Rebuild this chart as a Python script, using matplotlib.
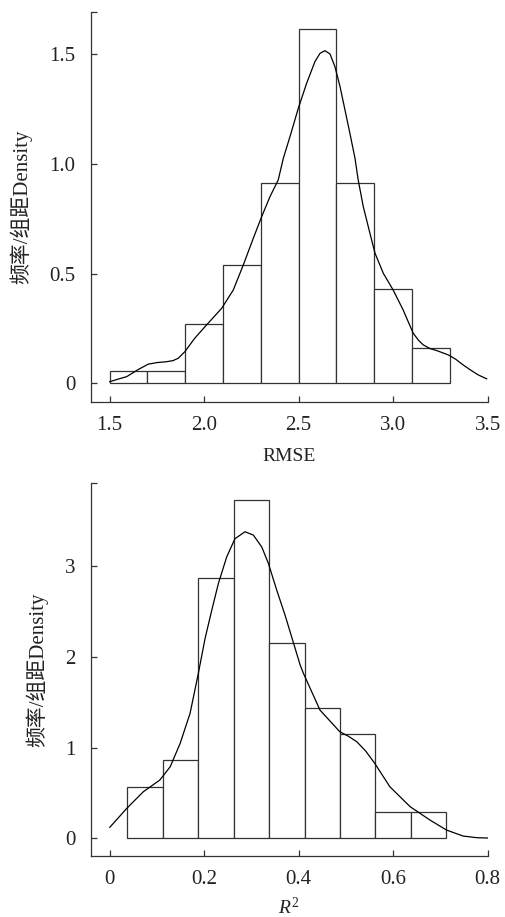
import matplotlib
matplotlib.use("Agg")
import matplotlib.pyplot as plt

plt.rcParams['font.family'] = ['Liberation Serif', 'Noto Sans CJK SC']
plt.rcParams['mathtext.fontset'] = 'custom'
plt.rcParams['mathtext.rm'] = 'Liberation Serif'
plt.rcParams['mathtext.it'] = 'Liberation Serif:italic'

# ---- Top panel: RMSE ----
rmse_bin_edges = [1.5, 1.7, 1.9, 2.1, 2.3, 2.5, 2.7, 2.9, 3.1, 3.3]
rmse_density = [0.054, 0.054, 0.269, 0.538, 0.913, 1.614, 0.913, 0.430, 0.161]
rmse_kde_x = [1.50, 1.55, 1.59, 1.65, 1.704, 1.75, 1.80, 1.835, 1.863, 1.898, 1.95,
              2.013, 2.093, 2.154, 2.207, 2.26, 2.304, 2.348, 2.392, 2.419, 2.454,
              2.498, 2.542, 2.586, 2.613, 2.639, 2.666, 2.692, 2.719, 2.745, 2.771,
              2.798, 2.815, 2.842, 2.877, 2.904, 2.948, 3.0, 3.053, 3.106, 3.135,
              3.159, 3.195, 3.23, 3.292, 3.33, 3.371, 3.41, 3.45, 3.495]
rmse_kde_y = [0.007, 0.020, 0.030, 0.062, 0.087, 0.094, 0.098, 0.103, 0.114, 0.144, 0.205,
              0.266, 0.342, 0.425, 0.539, 0.661, 0.759, 0.850, 0.927, 1.026, 1.124,
              1.253, 1.367, 1.466, 1.504, 1.516, 1.501, 1.443, 1.352, 1.246, 1.140,
              1.026, 0.927, 0.805, 0.684, 0.593, 0.501, 0.425, 0.334, 0.228, 0.195,
              0.175, 0.158, 0.149, 0.129, 0.110, 0.083, 0.060, 0.038, 0.020]
rmse_xticks = [1.5, 2.0, 2.5, 3.0, 3.5]
rmse_xticklabels = ['1.5', '2.0', '2.5', '3.0', '3.5']
rmse_yticks = [0, 0.5, 1.0, 1.5]
rmse_yticklabels = ['0', '0.5', '1.0', '1.5']

# ---- Bottom panel: R^2 ----
r2_bin_edges = [0.0375, 0.1125, 0.1875, 0.2625, 0.3375, 0.4125, 0.4875, 0.5625, 0.6375, 0.7125]
r2_density = [0.569, 0.859, 2.866, 3.725, 2.147, 1.435, 1.145, 0.286, 0.286]
r2_kde_x = [0.0, 0.036, 0.071, 0.106, 0.128, 0.149, 0.17, 0.1875, 0.2017, 0.216, 0.230,
            0.2476, 0.265, 0.2863, 0.304, 0.3217, 0.3357, 0.3534, 0.371, 0.385, 0.403,
            0.41, 0.445, 0.487, 0.505, 0.523, 0.542, 0.561, 0.593, 0.636, 0.678, 0.713,
            0.748, 0.777, 0.80]
r2_kde_y = [0.121, 0.33, 0.513, 0.642, 0.789, 1.046, 1.377, 1.817, 2.20, 2.514, 2.808,
            3.10, 3.30, 3.377, 3.34, 3.21, 3.03, 2.735, 2.46, 2.22, 1.91,
            1.817, 1.413, 1.174, 1.125, 1.064, 0.960, 0.826, 0.568, 0.348, 0.201, 0.091,
            0.025, 0.007, 0.003]
r2_xticks = [0, 0.2, 0.4, 0.6, 0.8]
r2_xticklabels = ['0', '0.2', '0.4', '0.6', '0.8']
r2_yticks = [0, 1, 2, 3]
r2_yticklabels = ['0', '1', '2', '3']

ylabel_text = '频率/组距Density'

fig = plt.figure(figsize=(5.05, 9.17), dpi=100)
ax1 = fig.add_axes([0.1796, 0.562, 0.786, 0.4253])
ax2 = fig.add_axes([0.1796, 0.0668, 0.786, 0.4061])

EDGE = '#333333'


def style(ax, edges, dens, kx, ky, xlim, ylim, xticks, xtl, yticks, ytl, xlabel, xlpad):
    widths = [edges[i + 1] - edges[i] for i in range(len(dens))]
    ax.bar(edges[:-1], dens, width=widths, align='edge', facecolor='white',
           edgecolor=EDGE, linewidth=0.9, zorder=2)
    ax.plot(kx, ky, color='black', linewidth=0.9, zorder=3,
            solid_joinstyle='round', antialiased=True)
    ax.set_xlim(*xlim)
    ax.set_ylim(*ylim)
    for s in ['top', 'right']:
        ax.spines[s].set_visible(False)
    for s in ['left', 'bottom']:
        ax.spines[s].set_color(EDGE)
        ax.spines[s].set_linewidth(0.9)
    ax.set_xticks(xticks)
    ax.set_xticklabels(xtl)
    ax.set_yticks(list(yticks) + [ylim[1]])
    ax.set_yticklabels(list(ytl) + [''])
    ax.tick_params(axis='both', direction='in', length=4.5, width=0.9, color=EDGE,
                   labelsize=15, labelcolor='#222222')
    ax.tick_params(axis='x', pad=10)
    ax.tick_params(axis='y', pad=11)
    ax.set_xlabel(xlabel, fontsize=14, color='#222222', labelpad=xlpad)
    ax.set_ylabel(ylabel_text, fontsize=15, color='#222222', labelpad=12)


style(ax1, rmse_bin_edges, rmse_density, rmse_kde_x, rmse_kde_y,
      (1.3995, 3.5), (-0.084, 1.694), rmse_xticks, rmse_xticklabels,
      rmse_yticks, rmse_yticklabels, 'RMSE', 10)
style(ax2, r2_bin_edges, r2_density, r2_kde_x, r2_kde_y,
      (-0.0404, 0.8), (-0.192, 3.91), r2_xticks, r2_xticklabels,
      r2_yticks, r2_yticklabels, r'$R^{\mathrm{2}}$', 6)

fig.savefig('out.png', dpi=100, facecolor='white')
